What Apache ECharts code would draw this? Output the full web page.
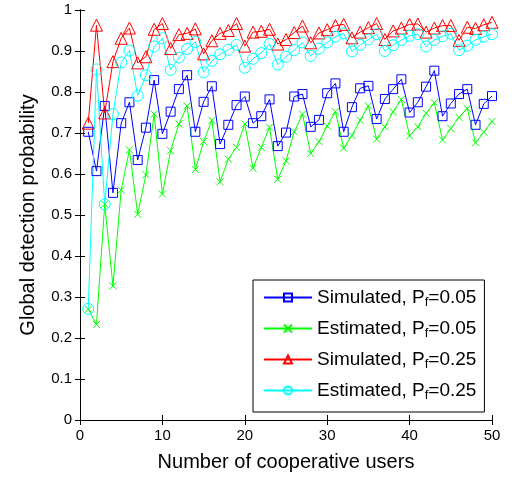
<!DOCTYPE html>
<html>
<head>
<meta charset="utf-8">
<script src="https://cdn.jsdelivr.net/npm/echarts@6/dist/echarts.min.js"></script>
<style>
  html, body { margin: 0; padding: 0; background: #fff; }
  #main { width: 516px; height: 478px; }
</style>
</head>
<body>
<div id="main"></div>
<script>
// number of cooperative users 1..50
var users = [];
for (var k = 1; k <= 50; k++) users.push(k);

var simPf005 = [0.703, 0.607, 0.766, 0.554, 0.724, 0.775, 0.634, 0.713, 0.829, 0.698,
  0.752, 0.807, 0.841, 0.703, 0.776, 0.814, 0.673, 0.720, 0.768, 0.789,
  0.724, 0.741, 0.782, 0.668, 0.701, 0.789, 0.795, 0.715, 0.732, 0.797,
  0.821, 0.703, 0.763, 0.809, 0.815, 0.734, 0.783, 0.807, 0.831, 0.750,
  0.775, 0.813, 0.852, 0.741, 0.772, 0.795, 0.807, 0.720, 0.771, 0.790];
var estPf005 = [0.270, 0.233, 0.526, 0.327, 0.561, 0.659, 0.502, 0.598, 0.746, 0.551,
  0.657, 0.722, 0.766, 0.611, 0.679, 0.731, 0.581, 0.636, 0.665, 0.722,
  0.614, 0.665, 0.714, 0.587, 0.632, 0.703, 0.746, 0.650, 0.679, 0.717,
  0.752, 0.663, 0.694, 0.731, 0.766, 0.685, 0.715, 0.752, 0.782, 0.693,
  0.715, 0.748, 0.774, 0.683, 0.711, 0.738, 0.760, 0.676, 0.702, 0.728];
var simPf025 = [0.724, 0.963, 0.749, 0.874, 0.931, 0.956, 0.871, 0.886, 0.953, 0.967,
  0.906, 0.940, 0.943, 0.954, 0.893, 0.925, 0.943, 0.950, 0.967, 0.912,
  0.946, 0.948, 0.953, 0.917, 0.928, 0.945, 0.961, 0.920, 0.944, 0.952,
  0.962, 0.965, 0.932, 0.946, 0.957, 0.967, 0.928, 0.949, 0.956, 0.965,
  0.966, 0.946, 0.956, 0.962, 0.962, 0.926, 0.958, 0.955, 0.964, 0.970];
var estPf025 = [0.271, 0.855, 0.526, 0.746, 0.872, 0.901, 0.791, 0.841, 0.911, 0.931,
  0.854, 0.884, 0.905, 0.922, 0.848, 0.876, 0.892, 0.903, 0.915, 0.859,
  0.881, 0.895, 0.917, 0.867, 0.886, 0.902, 0.921, 0.888, 0.906, 0.921,
  0.935, 0.943, 0.899, 0.915, 0.928, 0.941, 0.900, 0.914, 0.927, 0.937,
  0.941, 0.911, 0.927, 0.936, 0.942, 0.902, 0.913, 0.927, 0.935, 0.941];

var xTicks = [0, 10, 20, 30, 40, 50];
var yTickLabels = ['0', '0.1', '0.2', '0.3', '0.4', '0.5', '0.6', '0.7', '0.8', '0.9', '1'];

var seriesNames = ['Simulated, P_f=0.05', 'Estimated, P_f=0.05', 'Simulated, P_f=0.25', 'Estimated, P_f=0.25'];

function pairs(vals) {
  return vals.map(function (v, i) { return [users[i], v]; });
}

var FONT = 'Liberation Sans, Arial, Helvetica, sans-serif';

function mkSeries(name, vals, color, symbol, size) {
  return {
    name: name,
    type: 'line',
    data: pairs(vals),
    symbol: symbol,
    symbolSize: size,
    showAllSymbol: true,
    animation: false,
    lineStyle: { color: color, width: 1 },
    itemStyle: { color: 'rgba(0,0,0,0)', borderColor: color, borderWidth: 1 }
  };
}

var chart = echarts.init(document.getElementById('main'));

var axisLineStyle = { color: '#000', width: 1 };

var option = {
  backgroundColor: '#fff',
  animation: false,
  grid: { left: 80, right: 24, top: 10, bottom: 58 },
  legend: {
    left: 253,
    top: 280,
    width: 233,
    orient: 'vertical',
    backgroundColor: '#fff',
    borderColor: '#000',
    borderWidth: 1,
    padding: [8, 8, 10, 10],
    itemGap: 10,
    itemWidth: 48,
    itemHeight: 10,
    data: seriesNames,
    formatter: function (name) {
      var p = name.split('P_f');
      return '{t|' + p[0] + 'P}{s|f}{t|' + p[1] + '}';
    },
    textStyle: {
      fontFamily: FONT,
      color: '#000',
      rich: {
        t: { fontSize: 19, fontFamily: FONT, color: '#000' },
        s: { fontSize: 13, fontFamily: FONT, color: '#000', padding: [10, 0, 0, 0] }
      }
    }
  },
  xAxis: [{
    type: 'value',
    min: 0, max: 50, interval: 10,
    name: 'Number of cooperative users',
    nameLocation: 'middle',
    nameGap: 32,
    nameTextStyle: { fontFamily: FONT, fontSize: 20, color: '#000' },
    axisLine: { lineStyle: axisLineStyle },
    axisTick: { inside: true, length: 5, lineStyle: axisLineStyle },
    axisLabel: { fontFamily: FONT, fontSize: 15, color: '#000', margin: 8 },
    splitLine: { show: false }
  }, {
    type: 'value',
    position: 'top',
    min: 0, max: 50, interval: 10,
    axisLine: { show: true, lineStyle: axisLineStyle },
    axisTick: { inside: true, length: 5, lineStyle: axisLineStyle },
    axisLabel: { show: false },
    splitLine: { show: false }
  }],
  yAxis: [{
    type: 'value',
    min: 0, max: 1, interval: 0.1,
    name: 'Global detection probability',
    nameLocation: 'middle',
    nameGap: 42,
    nameTextStyle: { fontFamily: FONT, fontSize: 20, color: '#000' },
    axisLine: { lineStyle: axisLineStyle },
    axisTick: { inside: true, length: 5, lineStyle: axisLineStyle },
    axisLabel: {
      fontFamily: FONT, fontSize: 15, color: '#000', margin: 8,
      formatter: function (v) { return yTickLabels[Math.round(v * 10)]; }
    },
    splitLine: { show: false }
  }, {
    type: 'value',
    position: 'right',
    min: 0, max: 1, interval: 0.1,
    axisLine: { show: true, lineStyle: axisLineStyle },
    axisTick: { show: true, inside: true, length: 5, lineStyle: axisLineStyle },
    axisLabel: { show: false },
    splitLine: { show: false }
  }],
  series: [
    mkSeries(seriesNames[0], simPf005, '#0000ff', 'rect', 9),
    mkSeries(seriesNames[1], estPf005, '#00ff00', 'path://M0,0L10,10M10,0L0,10', 7),
    mkSeries(seriesNames[2], simPf025, '#ff0000', 'triangle', 12),
    mkSeries(seriesNames[3], estPf025, '#00ffff', 'circle', 11)
  ]
};

chart.setOption(option);
</script>
</body>
</html>
